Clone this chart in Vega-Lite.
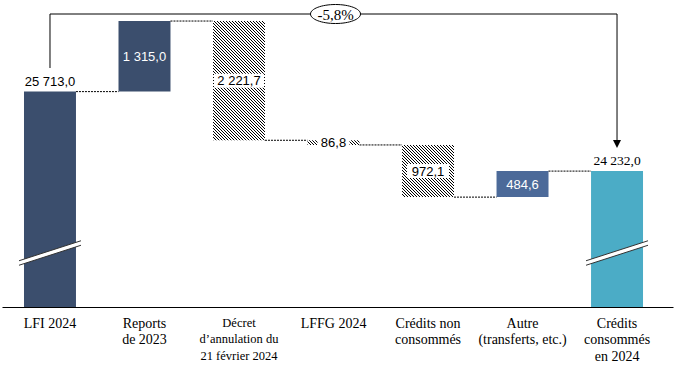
{
"$schema":"https://vega.github.io/schema/vega-lite/v6.json",
"width":671,"height":307,"autosize":"none",
"padding":{"left":2,"right":2,"top":0,"bottom":67},
"background":"white",
"config":{"view":{"stroke":null}},
"datasets":{
"steps":[
{"cat":"LFI 2024","type":"total","start":0,"end":25713.0,"label":"25 713,0","next":"Reports|de 2023"},
{"cat":"Reports|de 2023","type":"increase","start":25713.0,"end":27028.0,"label":"1 315,0","next":"Décret|d’annulation du|21 février 2024"},
{"cat":"Décret|d’annulation du|21 février 2024","type":"decrease","start":27028.0,"end":24806.3,"label":"2 221,7","next":"LFFG 2024"},
{"cat":"LFFG 2024","type":"decrease","start":24806.3,"end":24719.5,"label":"86,8","next":"Crédits non|consommés"},
{"cat":"Crédits non|consommés","type":"decrease","start":24719.5,"end":23747.4,"label":"972,1","next":"Autre|(transferts, etc.)"},
{"cat":"Autre|(transferts, etc.)","type":"increase","start":23747.4,"end":24232.0,"label":"484,6","next":"Crédits|consommés|en 2024"},
{"cat":"Crédits|consommés|en 2024","type":"total","start":0,"end":24232.0,"label":"24 232,0"}
],
"total_change":[{"from":"LFI 2024","to":"Crédits|consommés|en 2024","label":"-5,8%"}]
},
"data":{"name":"steps"},
"layer":[
{"transform":[{"filter":"datum.type !== 'decrease'"}],
 "mark":{"type":"bar","clip":true},
 "encoding":{
  "x":{"field":"cat","type":"nominal","sort":null,
   "scale":{"domain":["LFI 2024","Reports|de 2023","Décret|d’annulation du|21 février 2024","LFFG 2024","Crédits non|consommés","Autre|(transferts, etc.)","Crédits|consommés|en 2024"],"paddingInner":0.45,"paddingOuter":0.275,"align":0.4232},
   "axis":{"title":null,"labelAngle":0,"ticks":false,"tickSize":0,"domainColor":"#000","domainWidth":1,"labelFont":"Liberation Serif",
    "labelFontSize":{"condition":{"test":"indexof(datum.value,'Décret')===0","value":12.5},"value":14},
    "labelPadding":9,
    "labelColor":"#000","labelLineHeight":16.5,"labelExpr":"split(datum.label,'|')","labelLimit":300,"labelOverlap":false,"labelBound":false}},
  "y":{"field":"start","type":"quantitative","scale":{"domain":[21700,27420],"nice":false,"zero":false},"axis":null},
  "y2":{"field":"end"},
  "color":{"field":"cat","type":"nominal","legend":null,
   "scale":{"domain":["LFI 2024","Reports|de 2023","Autre|(transferts, etc.)","Crédits|consommés|en 2024"],"range":["#3b4e6d","#3b4e6d","#4c6a99","#4bacc6"]}}}},
{"transform":[{"filter":"isValid(datum.next)"}],
 "mark":{"type":"rule","color":"#000","strokeWidth":1,"strokeDash":[2,1]},
 "encoding":{
  "x":{"field":"cat","type":"nominal","bandPosition":1,"axis":{"title":null}},
  "x2":{"field":"next","bandPosition":0},
  "y":{"field":"end","type":"quantitative","axis":null}}},
{"transform":[{"filter":"datum.cat === 'Décret|d’annulation du|21 février 2024'"}],
 "mark":{"type":"bar","fill":{"gradient":"linear","x1":0,"y1":1,"x2":0.552956,"y2":-0.268508,"stops":[
{"offset":0,"color":"#000"},{"offset":0.00556,"color":"#000"},{"offset":0.00556,"color":"#fff"},{"offset":0.01667,"color":"#fff"},
{"offset":0.01667,"color":"#000"},{"offset":0.02222,"color":"#000"},{"offset":0.02222,"color":"#fff"},{"offset":0.03333,"color":"#fff"},
{"offset":0.03333,"color":"#000"},{"offset":0.03889,"color":"#000"},{"offset":0.03889,"color":"#fff"},{"offset":0.05,"color":"#fff"},
{"offset":0.05,"color":"#000"},{"offset":0.05556,"color":"#000"},{"offset":0.05556,"color":"#fff"},{"offset":0.06667,"color":"#fff"},
{"offset":0.06667,"color":"#000"},{"offset":0.07222,"color":"#000"},{"offset":0.07222,"color":"#fff"},{"offset":0.08333,"color":"#fff"},
{"offset":0.08333,"color":"#000"},{"offset":0.08889,"color":"#000"},{"offset":0.08889,"color":"#fff"},{"offset":0.1,"color":"#fff"},
{"offset":0.1,"color":"#000"},{"offset":0.10556,"color":"#000"},{"offset":0.10556,"color":"#fff"},{"offset":0.11667,"color":"#fff"},
{"offset":0.11667,"color":"#000"},{"offset":0.12222,"color":"#000"},{"offset":0.12222,"color":"#fff"},{"offset":0.13333,"color":"#fff"},
{"offset":0.13333,"color":"#000"},{"offset":0.13889,"color":"#000"},{"offset":0.13889,"color":"#fff"},{"offset":0.15,"color":"#fff"},
{"offset":0.15,"color":"#000"},{"offset":0.15556,"color":"#000"},{"offset":0.15556,"color":"#fff"},{"offset":0.16667,"color":"#fff"},
{"offset":0.16667,"color":"#000"},{"offset":0.17222,"color":"#000"},{"offset":0.17222,"color":"#fff"},{"offset":0.18333,"color":"#fff"},
{"offset":0.18333,"color":"#000"},{"offset":0.18889,"color":"#000"},{"offset":0.18889,"color":"#fff"},{"offset":0.2,"color":"#fff"},
{"offset":0.2,"color":"#000"},{"offset":0.20556,"color":"#000"},{"offset":0.20556,"color":"#fff"},{"offset":0.21667,"color":"#fff"},
{"offset":0.21667,"color":"#000"},{"offset":0.22222,"color":"#000"},{"offset":0.22222,"color":"#fff"},{"offset":0.23333,"color":"#fff"},
{"offset":0.23333,"color":"#000"},{"offset":0.23889,"color":"#000"},{"offset":0.23889,"color":"#fff"},{"offset":0.25,"color":"#fff"},
{"offset":0.25,"color":"#000"},{"offset":0.25556,"color":"#000"},{"offset":0.25556,"color":"#fff"},{"offset":0.26667,"color":"#fff"},
{"offset":0.26667,"color":"#000"},{"offset":0.27222,"color":"#000"},{"offset":0.27222,"color":"#fff"},{"offset":0.28333,"color":"#fff"},
{"offset":0.28333,"color":"#000"},{"offset":0.28889,"color":"#000"},{"offset":0.28889,"color":"#fff"},{"offset":0.3,"color":"#fff"},
{"offset":0.3,"color":"#000"},{"offset":0.30556,"color":"#000"},{"offset":0.30556,"color":"#fff"},{"offset":0.31667,"color":"#fff"},
{"offset":0.31667,"color":"#000"},{"offset":0.32222,"color":"#000"},{"offset":0.32222,"color":"#fff"},{"offset":0.33333,"color":"#fff"},
{"offset":0.33333,"color":"#000"},{"offset":0.33889,"color":"#000"},{"offset":0.33889,"color":"#fff"},{"offset":0.35,"color":"#fff"},
{"offset":0.35,"color":"#000"},{"offset":0.35556,"color":"#000"},{"offset":0.35556,"color":"#fff"},{"offset":0.36667,"color":"#fff"},
{"offset":0.36667,"color":"#000"},{"offset":0.37222,"color":"#000"},{"offset":0.37222,"color":"#fff"},{"offset":0.38333,"color":"#fff"},
{"offset":0.38333,"color":"#000"},{"offset":0.38889,"color":"#000"},{"offset":0.38889,"color":"#fff"},{"offset":0.4,"color":"#fff"},
{"offset":0.4,"color":"#000"},{"offset":0.40556,"color":"#000"},{"offset":0.40556,"color":"#fff"},{"offset":0.41667,"color":"#fff"},
{"offset":0.41667,"color":"#000"},{"offset":0.42222,"color":"#000"},{"offset":0.42222,"color":"#fff"},{"offset":0.43333,"color":"#fff"},
{"offset":0.43333,"color":"#000"},{"offset":0.43889,"color":"#000"},{"offset":0.43889,"color":"#fff"},{"offset":0.45,"color":"#fff"},
{"offset":0.45,"color":"#000"},{"offset":0.45556,"color":"#000"},{"offset":0.45556,"color":"#fff"},{"offset":0.46667,"color":"#fff"},
{"offset":0.46667,"color":"#000"},{"offset":0.47222,"color":"#000"},{"offset":0.47222,"color":"#fff"},{"offset":0.48333,"color":"#fff"},
{"offset":0.48333,"color":"#000"},{"offset":0.48889,"color":"#000"},{"offset":0.48889,"color":"#fff"},{"offset":0.5,"color":"#fff"},
{"offset":0.5,"color":"#000"},{"offset":0.50556,"color":"#000"},{"offset":0.50556,"color":"#fff"},{"offset":0.51667,"color":"#fff"},
{"offset":0.51667,"color":"#000"},{"offset":0.52222,"color":"#000"},{"offset":0.52222,"color":"#fff"},{"offset":0.53333,"color":"#fff"},
{"offset":0.53333,"color":"#000"},{"offset":0.53889,"color":"#000"},{"offset":0.53889,"color":"#fff"},{"offset":0.55,"color":"#fff"},
{"offset":0.55,"color":"#000"},{"offset":0.55556,"color":"#000"},{"offset":0.55556,"color":"#fff"},{"offset":0.56667,"color":"#fff"},
{"offset":0.56667,"color":"#000"},{"offset":0.57222,"color":"#000"},{"offset":0.57222,"color":"#fff"},{"offset":0.58333,"color":"#fff"},
{"offset":0.58333,"color":"#000"},{"offset":0.58889,"color":"#000"},{"offset":0.58889,"color":"#fff"},{"offset":0.6,"color":"#fff"},
{"offset":0.6,"color":"#000"},{"offset":0.60556,"color":"#000"},{"offset":0.60556,"color":"#fff"},{"offset":0.61667,"color":"#fff"},
{"offset":0.61667,"color":"#000"},{"offset":0.62222,"color":"#000"},{"offset":0.62222,"color":"#fff"},{"offset":0.63333,"color":"#fff"},
{"offset":0.63333,"color":"#000"},{"offset":0.63889,"color":"#000"},{"offset":0.63889,"color":"#fff"},{"offset":0.65,"color":"#fff"},
{"offset":0.65,"color":"#000"},{"offset":0.65556,"color":"#000"},{"offset":0.65556,"color":"#fff"},{"offset":0.66667,"color":"#fff"},
{"offset":0.66667,"color":"#000"},{"offset":0.67222,"color":"#000"},{"offset":0.67222,"color":"#fff"},{"offset":0.68333,"color":"#fff"},
{"offset":0.68333,"color":"#000"},{"offset":0.68889,"color":"#000"},{"offset":0.68889,"color":"#fff"},{"offset":0.7,"color":"#fff"},
{"offset":0.7,"color":"#000"},{"offset":0.70556,"color":"#000"},{"offset":0.70556,"color":"#fff"},{"offset":0.71667,"color":"#fff"},
{"offset":0.71667,"color":"#000"},{"offset":0.72222,"color":"#000"},{"offset":0.72222,"color":"#fff"},{"offset":0.73333,"color":"#fff"},
{"offset":0.73333,"color":"#000"},{"offset":0.73889,"color":"#000"},{"offset":0.73889,"color":"#fff"},{"offset":0.75,"color":"#fff"},
{"offset":0.75,"color":"#000"},{"offset":0.75556,"color":"#000"},{"offset":0.75556,"color":"#fff"},{"offset":0.76667,"color":"#fff"},
{"offset":0.76667,"color":"#000"},{"offset":0.77222,"color":"#000"},{"offset":0.77222,"color":"#fff"},{"offset":0.78333,"color":"#fff"},
{"offset":0.78333,"color":"#000"},{"offset":0.78889,"color":"#000"},{"offset":0.78889,"color":"#fff"},{"offset":0.8,"color":"#fff"},
{"offset":0.8,"color":"#000"},{"offset":0.80556,"color":"#000"},{"offset":0.80556,"color":"#fff"},{"offset":0.81667,"color":"#fff"},
{"offset":0.81667,"color":"#000"},{"offset":0.82222,"color":"#000"},{"offset":0.82222,"color":"#fff"},{"offset":0.83333,"color":"#fff"},
{"offset":0.83333,"color":"#000"},{"offset":0.83889,"color":"#000"},{"offset":0.83889,"color":"#fff"},{"offset":0.85,"color":"#fff"},
{"offset":0.85,"color":"#000"},{"offset":0.85556,"color":"#000"},{"offset":0.85556,"color":"#fff"},{"offset":0.86667,"color":"#fff"},
{"offset":0.86667,"color":"#000"},{"offset":0.87222,"color":"#000"},{"offset":0.87222,"color":"#fff"},{"offset":0.88333,"color":"#fff"},
{"offset":0.88333,"color":"#000"},{"offset":0.88889,"color":"#000"},{"offset":0.88889,"color":"#fff"},{"offset":0.9,"color":"#fff"},
{"offset":0.9,"color":"#000"},{"offset":0.90556,"color":"#000"},{"offset":0.90556,"color":"#fff"},{"offset":0.91667,"color":"#fff"},
{"offset":0.91667,"color":"#000"},{"offset":0.92222,"color":"#000"},{"offset":0.92222,"color":"#fff"},{"offset":0.93333,"color":"#fff"},
{"offset":0.93333,"color":"#000"},{"offset":0.93889,"color":"#000"},{"offset":0.93889,"color":"#fff"},{"offset":0.95,"color":"#fff"},
{"offset":0.95,"color":"#000"},{"offset":0.95556,"color":"#000"},{"offset":0.95556,"color":"#fff"},{"offset":0.96667,"color":"#fff"}
]}},
 "encoding":{"x":{"field":"cat","type":"nominal","axis":{"title":null}},"y":{"field":"start","type":"quantitative","axis":null},"y2":{"field":"end"}}},
{"transform":[{"filter":"datum.cat === 'LFFG 2024'"}],
 "mark":{"type":"bar","fill":{"gradient":"linear","x1":0,"y1":1,"x2":3.43536,"y2":0.692099,"stops":[
{"offset":0,"color":"#000"},{"offset":0.00556,"color":"#000"},{"offset":0.00556,"color":"#fff"},{"offset":0.01667,"color":"#fff"},
{"offset":0.01667,"color":"#000"},{"offset":0.02222,"color":"#000"},{"offset":0.02222,"color":"#fff"},{"offset":0.03333,"color":"#fff"},
{"offset":0.03333,"color":"#000"},{"offset":0.03889,"color":"#000"},{"offset":0.03889,"color":"#fff"},{"offset":0.05,"color":"#fff"},
{"offset":0.05,"color":"#000"},{"offset":0.05556,"color":"#000"},{"offset":0.05556,"color":"#fff"},{"offset":0.06667,"color":"#fff"},
{"offset":0.06667,"color":"#000"},{"offset":0.07222,"color":"#000"},{"offset":0.07222,"color":"#fff"},{"offset":0.08333,"color":"#fff"},
{"offset":0.08333,"color":"#000"},{"offset":0.08889,"color":"#000"},{"offset":0.08889,"color":"#fff"},{"offset":0.1,"color":"#fff"},
{"offset":0.1,"color":"#000"},{"offset":0.10556,"color":"#000"},{"offset":0.10556,"color":"#fff"},{"offset":0.11667,"color":"#fff"},
{"offset":0.11667,"color":"#000"},{"offset":0.12222,"color":"#000"},{"offset":0.12222,"color":"#fff"},{"offset":0.13333,"color":"#fff"},
{"offset":0.13333,"color":"#000"},{"offset":0.13889,"color":"#000"},{"offset":0.13889,"color":"#fff"},{"offset":0.15,"color":"#fff"},
{"offset":0.15,"color":"#000"},{"offset":0.15556,"color":"#000"},{"offset":0.15556,"color":"#fff"},{"offset":0.16667,"color":"#fff"},
{"offset":0.16667,"color":"#000"},{"offset":0.17222,"color":"#000"},{"offset":0.17222,"color":"#fff"},{"offset":0.18333,"color":"#fff"},
{"offset":0.18333,"color":"#000"},{"offset":0.18889,"color":"#000"},{"offset":0.18889,"color":"#fff"},{"offset":0.2,"color":"#fff"},
{"offset":0.2,"color":"#000"},{"offset":0.20556,"color":"#000"},{"offset":0.20556,"color":"#fff"},{"offset":0.21667,"color":"#fff"},
{"offset":0.21667,"color":"#000"},{"offset":0.22222,"color":"#000"},{"offset":0.22222,"color":"#fff"},{"offset":0.23333,"color":"#fff"},
{"offset":0.23333,"color":"#000"},{"offset":0.23889,"color":"#000"},{"offset":0.23889,"color":"#fff"},{"offset":0.25,"color":"#fff"},
{"offset":0.25,"color":"#000"},{"offset":0.25556,"color":"#000"},{"offset":0.25556,"color":"#fff"},{"offset":0.26667,"color":"#fff"},
{"offset":0.26667,"color":"#000"},{"offset":0.27222,"color":"#000"},{"offset":0.27222,"color":"#fff"},{"offset":0.28333,"color":"#fff"},
{"offset":0.28333,"color":"#000"},{"offset":0.28889,"color":"#000"},{"offset":0.28889,"color":"#fff"},{"offset":0.3,"color":"#fff"},
{"offset":0.3,"color":"#000"},{"offset":0.30556,"color":"#000"},{"offset":0.30556,"color":"#fff"},{"offset":0.31667,"color":"#fff"},
{"offset":0.31667,"color":"#000"},{"offset":0.32222,"color":"#000"},{"offset":0.32222,"color":"#fff"},{"offset":0.33333,"color":"#fff"}
]}},
 "encoding":{"x":{"field":"cat","type":"nominal","axis":{"title":null}},"y":{"field":"start","type":"quantitative","axis":null},"y2":{"field":"end"}}},
{"transform":[{"filter":"datum.cat === 'Crédits non|consommés'"}],
 "mark":{"type":"bar","fill":{"gradient":"linear","x1":0,"y1":1,"x2":1.72498,"y2":-0.731457,"stops":[
{"offset":0,"color":"#000"},{"offset":0.00556,"color":"#000"},{"offset":0.00556,"color":"#fff"},{"offset":0.01667,"color":"#fff"},
{"offset":0.01667,"color":"#000"},{"offset":0.02222,"color":"#000"},{"offset":0.02222,"color":"#fff"},{"offset":0.03333,"color":"#fff"},
{"offset":0.03333,"color":"#000"},{"offset":0.03889,"color":"#000"},{"offset":0.03889,"color":"#fff"},{"offset":0.05,"color":"#fff"},
{"offset":0.05,"color":"#000"},{"offset":0.05556,"color":"#000"},{"offset":0.05556,"color":"#fff"},{"offset":0.06667,"color":"#fff"},
{"offset":0.06667,"color":"#000"},{"offset":0.07222,"color":"#000"},{"offset":0.07222,"color":"#fff"},{"offset":0.08333,"color":"#fff"},
{"offset":0.08333,"color":"#000"},{"offset":0.08889,"color":"#000"},{"offset":0.08889,"color":"#fff"},{"offset":0.1,"color":"#fff"},
{"offset":0.1,"color":"#000"},{"offset":0.10556,"color":"#000"},{"offset":0.10556,"color":"#fff"},{"offset":0.11667,"color":"#fff"},
{"offset":0.11667,"color":"#000"},{"offset":0.12222,"color":"#000"},{"offset":0.12222,"color":"#fff"},{"offset":0.13333,"color":"#fff"},
{"offset":0.13333,"color":"#000"},{"offset":0.13889,"color":"#000"},{"offset":0.13889,"color":"#fff"},{"offset":0.15,"color":"#fff"},
{"offset":0.15,"color":"#000"},{"offset":0.15556,"color":"#000"},{"offset":0.15556,"color":"#fff"},{"offset":0.16667,"color":"#fff"},
{"offset":0.16667,"color":"#000"},{"offset":0.17222,"color":"#000"},{"offset":0.17222,"color":"#fff"},{"offset":0.18333,"color":"#fff"},
{"offset":0.18333,"color":"#000"},{"offset":0.18889,"color":"#000"},{"offset":0.18889,"color":"#fff"},{"offset":0.2,"color":"#fff"},
{"offset":0.2,"color":"#000"},{"offset":0.20556,"color":"#000"},{"offset":0.20556,"color":"#fff"},{"offset":0.21667,"color":"#fff"},
{"offset":0.21667,"color":"#000"},{"offset":0.22222,"color":"#000"},{"offset":0.22222,"color":"#fff"},{"offset":0.23333,"color":"#fff"},
{"offset":0.23333,"color":"#000"},{"offset":0.23889,"color":"#000"},{"offset":0.23889,"color":"#fff"},{"offset":0.25,"color":"#fff"},
{"offset":0.25,"color":"#000"},{"offset":0.25556,"color":"#000"},{"offset":0.25556,"color":"#fff"},{"offset":0.26667,"color":"#fff"},
{"offset":0.26667,"color":"#000"},{"offset":0.27222,"color":"#000"},{"offset":0.27222,"color":"#fff"},{"offset":0.28333,"color":"#fff"},
{"offset":0.28333,"color":"#000"},{"offset":0.28889,"color":"#000"},{"offset":0.28889,"color":"#fff"},{"offset":0.3,"color":"#fff"},
{"offset":0.3,"color":"#000"},{"offset":0.30556,"color":"#000"},{"offset":0.30556,"color":"#fff"},{"offset":0.31667,"color":"#fff"},
{"offset":0.31667,"color":"#000"},{"offset":0.32222,"color":"#000"},{"offset":0.32222,"color":"#fff"},{"offset":0.33333,"color":"#fff"},
{"offset":0.33333,"color":"#000"},{"offset":0.33889,"color":"#000"},{"offset":0.33889,"color":"#fff"},{"offset":0.35,"color":"#fff"},
{"offset":0.35,"color":"#000"},{"offset":0.35556,"color":"#000"},{"offset":0.35556,"color":"#fff"},{"offset":0.36667,"color":"#fff"},
{"offset":0.36667,"color":"#000"},{"offset":0.37222,"color":"#000"},{"offset":0.37222,"color":"#fff"},{"offset":0.38333,"color":"#fff"},
{"offset":0.38333,"color":"#000"},{"offset":0.38889,"color":"#000"},{"offset":0.38889,"color":"#fff"},{"offset":0.4,"color":"#fff"},
{"offset":0.4,"color":"#000"},{"offset":0.40556,"color":"#000"},{"offset":0.40556,"color":"#fff"},{"offset":0.41667,"color":"#fff"},
{"offset":0.41667,"color":"#000"},{"offset":0.42222,"color":"#000"},{"offset":0.42222,"color":"#fff"},{"offset":0.43333,"color":"#fff"},
{"offset":0.43333,"color":"#000"},{"offset":0.43889,"color":"#000"},{"offset":0.43889,"color":"#fff"},{"offset":0.45,"color":"#fff"},
{"offset":0.45,"color":"#000"},{"offset":0.45556,"color":"#000"},{"offset":0.45556,"color":"#fff"},{"offset":0.46667,"color":"#fff"},
{"offset":0.46667,"color":"#000"},{"offset":0.47222,"color":"#000"},{"offset":0.47222,"color":"#fff"},{"offset":0.48333,"color":"#fff"},
{"offset":0.48333,"color":"#000"},{"offset":0.48889,"color":"#000"},{"offset":0.48889,"color":"#fff"},{"offset":0.5,"color":"#fff"},
{"offset":0.5,"color":"#000"},{"offset":0.50556,"color":"#000"},{"offset":0.50556,"color":"#fff"},{"offset":0.51667,"color":"#fff"},
{"offset":0.51667,"color":"#000"},{"offset":0.52222,"color":"#000"},{"offset":0.52222,"color":"#fff"},{"offset":0.53333,"color":"#fff"},
{"offset":0.53333,"color":"#000"},{"offset":0.53889,"color":"#000"},{"offset":0.53889,"color":"#fff"},{"offset":0.55,"color":"#fff"},
{"offset":0.55,"color":"#000"},{"offset":0.55556,"color":"#000"},{"offset":0.55556,"color":"#fff"},{"offset":0.56667,"color":"#fff"},
{"offset":0.56667,"color":"#000"},{"offset":0.57222,"color":"#000"},{"offset":0.57222,"color":"#fff"},{"offset":0.58333,"color":"#fff"},
{"offset":0.58333,"color":"#000"},{"offset":0.58889,"color":"#000"},{"offset":0.58889,"color":"#fff"},{"offset":0.6,"color":"#fff"}
]}},
 "encoding":{"x":{"field":"cat","type":"nominal","axis":{"title":null}},"y":{"field":"start","type":"quantitative","axis":null},"y2":{"field":"end"}}},
{"transform":[{"filter":"datum.type === 'decrease'"},{"calculate":"(datum.start + datum.end) / 2","as":"mid"}],
 "mark":{"type":"point","filled":true,"fill":"#fff","opacity":1,"strokeWidth":0},
 "encoding":{
  "x":{"field":"cat","type":"nominal","axis":{"title":null}},
  "y":{"field":"mid","type":"quantitative","axis":null},
  "shape":{"condition":[{"test":"datum.cat === 'LFFG 2024'","value":"M-1,-0.4375H1V0.4375H-1Z"},{"test":"datum.cat === 'Crédits non|consommés'","value":"M-1,-0.333H1V0.333H-1Z"}],"value":"M-1,-0.28H1V0.28H-1Z"},
  "size":{"condition":[{"test":"datum.cat === 'LFFG 2024'","value":1024},{"test":"datum.cat === 'Crédits non|consommés'","value":1764}],"value":2500}}},
{"transform":[{"filter":"datum.type !== 'total'"},{"calculate":"(datum.start + datum.end) / 2","as":"mid"}],
 "mark":{"type":"text","font":"Liberation Sans","fontSize":13,"baseline":"middle","align":"center","dy":0.5},
 "encoding":{
  "x":{"field":"cat","type":"nominal","axis":{"title":null}},
  "y":{"field":"mid","type":"quantitative","axis":null},
  "text":{"field":"label"},
  "color":{"condition":{"test":"datum.type === 'increase'","value":"#ffffff"},"value":"#000000"}}},
{"transform":[{"filter":"datum.cat === 'LFI 2024'"}],
 "mark":{"type":"text","font":"Liberation Sans","fontSize":13,"baseline":"alphabetic","align":"center","dy":-6,"color":"#000"},
 "encoding":{"x":{"field":"cat","type":"nominal","axis":{"title":null}},"y":{"field":"end","type":"quantitative","axis":null},"text":{"field":"label"}}},
{"transform":[{"filter":"datum.cat === 'Crédits|consommés|en 2024'"}],
 "mark":{"type":"text","font":"Liberation Serif","fontSize":13.5,"baseline":"alphabetic","align":"center","dy":-6,"color":"#000"},
 "encoding":{"x":{"field":"cat","type":"nominal","axis":{"title":null}},"y":{"field":"end","type":"quantitative","axis":null},"text":{"field":"label"}}},
{"transform":[{"filter":"datum.type === 'total'"}],
 "mark":{"type":"point","filled":true,"fill":"#fff","opacity":1,"strokeWidth":0},
 "encoding":{"x":{"field":"cat","type":"nominal","axis":{"title":null}},"y":{"datum":22706,"type":"quantitative","axis":null},
  "shape":{"value":"M-1,0.25L1,-0.395L1,-0.25L-1,0.395Z"},"size":{"value":3844}}},
{"transform":[{"filter":"datum.type === 'total'"}],
 "mark":{"type":"point","filled":false,"stroke":"#333333","strokeWidth":1,"opacity":1},
 "encoding":{"x":{"field":"cat","type":"nominal","axis":{"title":null}},"y":{"datum":22706,"type":"quantitative","axis":null},
  "shape":{"value":"M-1,0.25L1,-0.395M-1,0.395L1,-0.25"},"size":{"value":3844}}},
{"data":{"name":"total_change"},
 "mark":{"type":"rule","color":"#000","strokeWidth":1},
 "encoding":{"x":{"field":"from","type":"nominal","axis":{"title":null}},"y":{"datum":27159,"type":"quantitative","axis":null},"y2":{"datum":26153}}},
{"data":{"name":"total_change"},
 "mark":{"type":"rule","color":"#000","strokeWidth":1},
 "encoding":{"x":{"field":"from","type":"nominal","axis":{"title":null}},"x2":{"field":"to"},"y":{"datum":27159,"type":"quantitative","axis":null}}},
{"data":{"name":"total_change"},
 "mark":{"type":"rule","color":"#000","strokeWidth":1},
 "encoding":{"x":{"field":"to","type":"nominal","axis":{"title":null}},"y":{"datum":27159,"type":"quantitative","axis":null},"y2":{"datum":24737}}},
{"data":{"name":"total_change"},
 "mark":{"type":"point","filled":true,"fill":"#000","opacity":1,"strokeWidth":0},
 "encoding":{"x":{"field":"to","type":"nominal","axis":{"title":null}},"y":{"datum":24737,"type":"quantitative","axis":null},
  "shape":{"value":"M-1,-1L1,-1L0,1Z"},"size":{"value":64}}},
{"data":{"name":"total_change"},
 "mark":{"type":"point","filled":true,"fill":"#fff","stroke":"#000","strokeWidth":1,"opacity":1,"xOffset":2},
 "encoding":{"x":{"datum":"LFFG 2024","type":"nominal","axis":{"title":null}},"y":{"datum":27159,"type":"quantitative","axis":null},
  "shape":{"value":"M-1,0A1,0.38,0,1,1,1,0A1,0.38,0,1,1,-1,0Z"},"size":{"value":2500}}},
{"data":{"name":"total_change"},
 "mark":{"type":"text","font":"Liberation Serif","fontSize":15,"baseline":"middle","align":"center","dx":2,"dy":0.5,"color":"#000"},
 "encoding":{"x":{"datum":"LFFG 2024","type":"nominal","axis":{"title":null}},"y":{"datum":27159,"type":"quantitative","axis":null},"text":{"field":"label"}}}
]
}
